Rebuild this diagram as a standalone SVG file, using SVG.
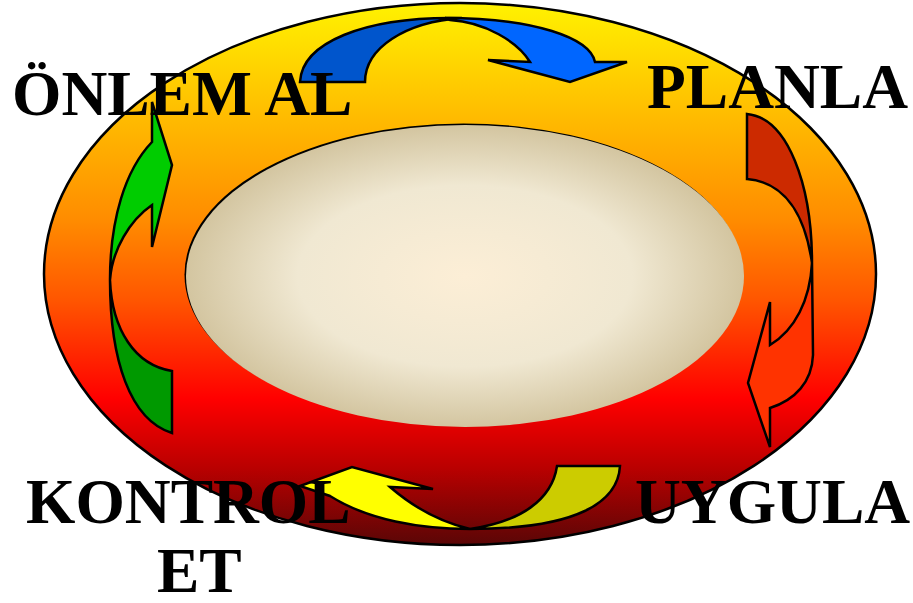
<svg xmlns="http://www.w3.org/2000/svg" width="913" height="603" viewBox="0 0 913 603">
<defs>
<linearGradient id="outerGrad" x1="0" y1="0" x2="0" y2="1">
<stop offset="0" stop-color="#FFF200"/>
<stop offset="0.2" stop-color="#FFBE00"/>
<stop offset="0.4" stop-color="#FF8C00"/>
<stop offset="0.55" stop-color="#FF5500"/>
<stop offset="0.73" stop-color="#FF0000"/>
<stop offset="0.86" stop-color="#B80000"/>
<stop offset="1" stop-color="#5A0606"/>
</linearGradient>
<radialGradient id="innerGrad" cx="0.5" cy="0.5" r="0.5">
<stop offset="0" stop-color="#FCEED6"/>
<stop offset="0.6" stop-color="#F0E8D2"/>
<stop offset="1" stop-color="#D3C5A0"/>
</radialGradient>
<style>
.sh{stroke:#000;stroke-width:2.5;stroke-linejoin:miter}
.lbl{font-family:"Liberation Serif","Times New Roman",serif;font-weight:bold;font-size:63.5px;fill:#000}
</style>
</defs>
<g id="background">
<ellipse cx="460" cy="274" rx="416" ry="271" fill="url(#outerGrad)" stroke="#000" stroke-width="2.5"/>
<ellipse cx="463.5" cy="274.5" rx="279" ry="151" fill="#000"/>
<ellipse cx="465" cy="276" rx="279" ry="151" fill="url(#innerGrad)"/>
</g>
<g id="connectors">
<g id="arrow-top">
<path class="sh" fill="#0055CC" d="M300,82 C302,42 365,18 450,18 L462,18 C405,22 365,48 365,82 Z"/>
<path class="sh" fill="#0066FF" d="M445,18 C535,18 590,38 595,62 L627,62 L570,82 L488,60 L530,62 C518,42 485,22 450,20 Z"/>
</g>
<g id="arrow-right">
<path class="sh" fill="#CC2A00" d="M747,114 C788,118 812,185 812,263 C805,215 785,182 747,179 Z"/>
<path class="sh" fill="#FF3300" d="M812,263 L813,355 C812,382 795,400 770,408 L770,447 L748,383 L770,302 L770,345 C795,330 810,300 812,263 Z"/>
</g>
<g id="arrow-bottom">
<path class="sh" fill="#CCCC00" d="M557,466 L620,466 C618,502 578,529 470,529 C520,522 552,500 557,466 Z"/>
<path class="sh" fill="#FFFF00" d="M470,529 C420,529 368,520 330,496 L300,486 L352,467 L433,489 L390,487 C412,506 440,522 470,529 Z"/>
</g>
<g id="arrow-left">
<path class="sh" fill="#009900" d="M172,433 L172,371 C135,365 112,330 110,280 C110,360 130,420 172,433 Z"/>
<path class="sh" fill="#00CC00" d="M110,280 C110,220 125,170 152,142 L152,102 L172,165 L152,247 L152,205 C130,220 112,250 110,280 Z"/>
</g>
</g>
<g id="node-onlem-al"><text class="lbl" x="12" y="115">ÖNLEM AL</text></g>
<g id="node-planla"><text class="lbl" x="647" y="108">PLANLA</text></g>
<g id="node-uygula"><text class="lbl" x="635" y="523">UYGULA</text></g>
<g id="node-kontrol-et"><text class="lbl" x="26" y="523">KONTROL</text><text class="lbl" x="157" y="592">ET</text></g>
</svg>
